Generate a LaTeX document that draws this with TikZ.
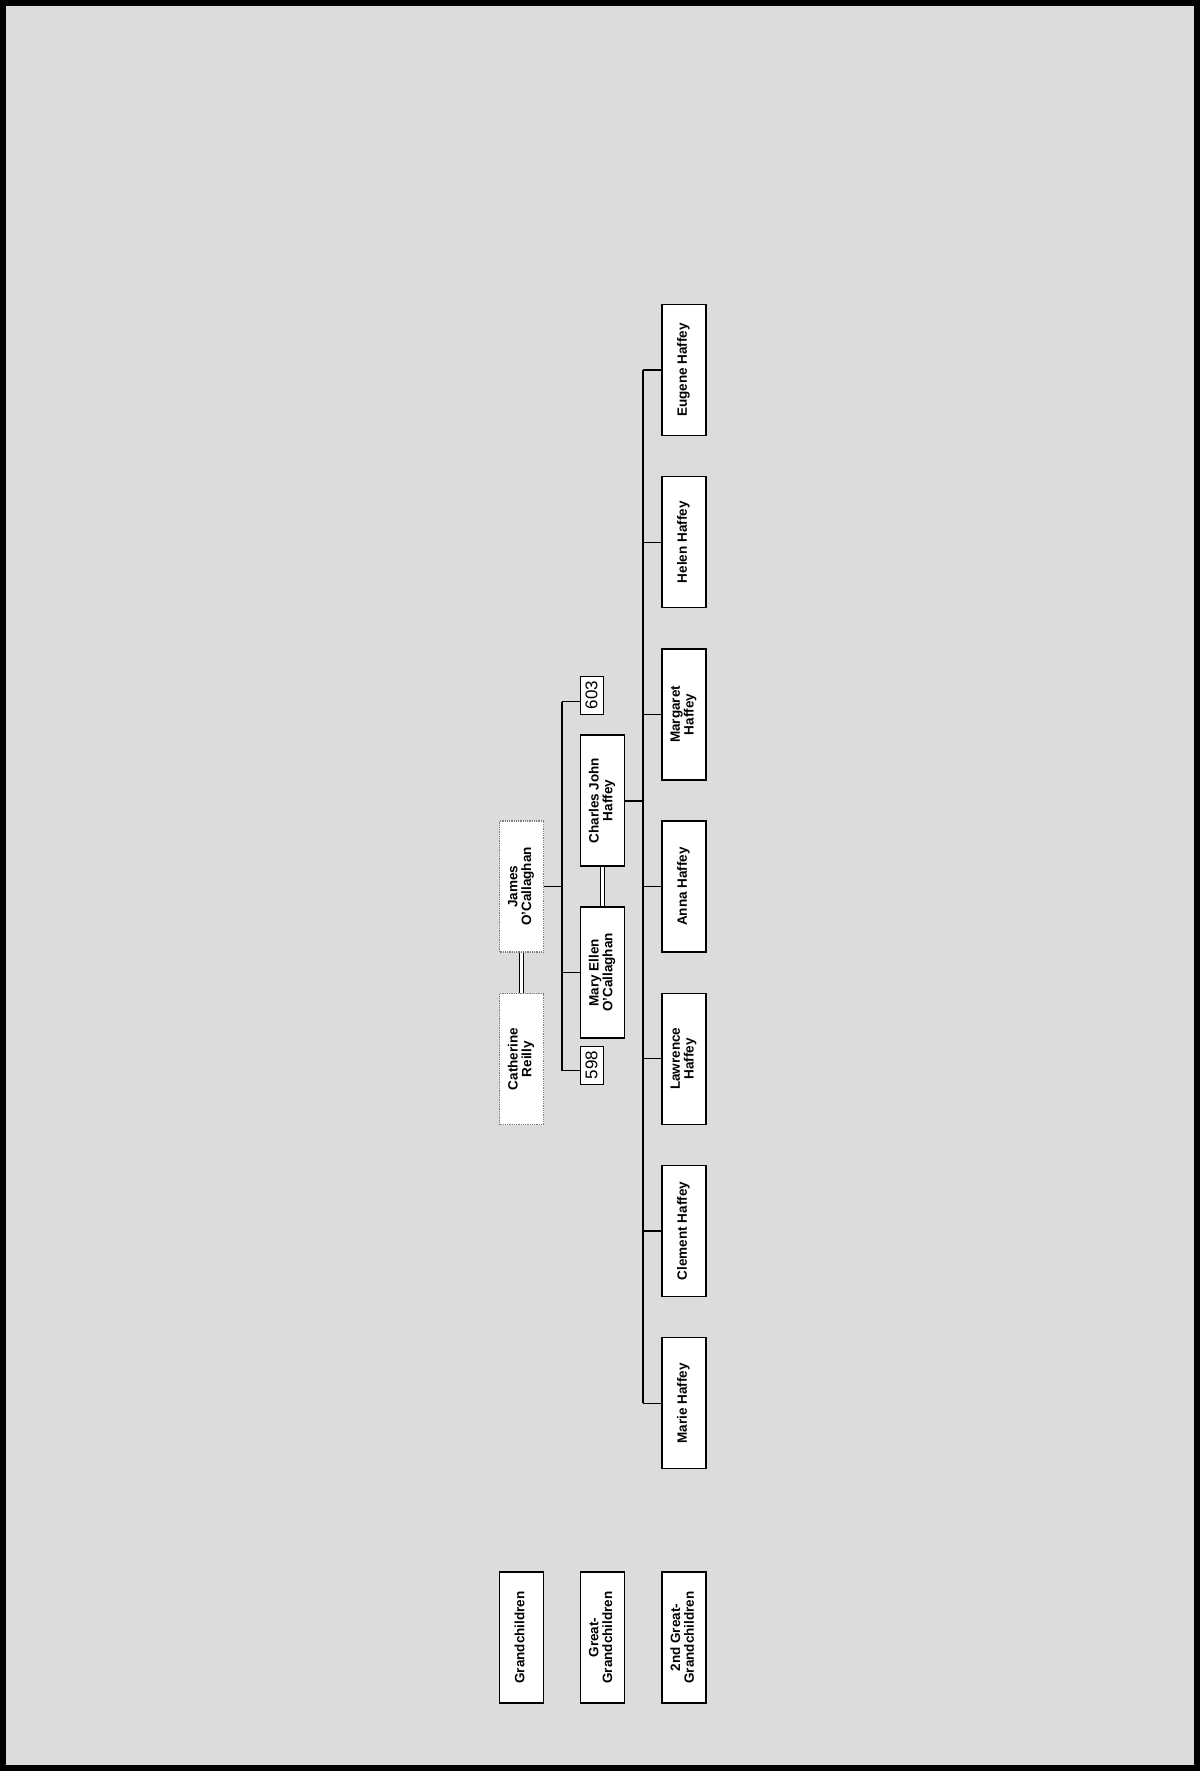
\documentclass[tikz,border=0pt]{standalone}
\usepackage{fontspec}
\setmainfont{Liberation Sans}
\usepackage{graphicx}
\definecolor{bgc}{HTML}{DCDCDC}
\newcommand\rt[1]{\rotatebox{90}{\begin{tabular}{@{}c@{}}#1\end{tabular}}}
\tikzset{
  box/.style={draw=black, line width=1.3pt, fill=white, minimum width=44pt, minimum height=131pt, inner sep=0pt, font=\bfseries\fontsize{13.5}{13}\selectfont},
  gbox/.style={box, draw=gray, dash pattern=on 1pt off 0.8pt, line width=1.3pt},
  lbl/.style={draw=black, line width=1pt, fill=white, minimum width=23pt, minimum height=38pt, inner sep=0pt, font=\fontsize{17}{18}\selectfont},
  conn/.style={line width=1.3pt},
  bar/.style={line width=2pt},
  wed/.style={double, double distance=3pt, line width=1.2pt}
}
\begin{document}
\begin{tikzpicture}[x=1pt,y=-1pt]
\useasboundingbox (0,0) rectangle (1200,1771);
\fill[bgc] (0,0) rectangle (1200,1771);
\draw[line width=6pt] (3,3) rectangle (1197,1768);

% generation 1
\node[gbox] (james) at (521.5,886.5) {\rt{James\\O'Callaghan}};
\node[gbox] (cath) at (521.5,1059) {\rt{Catherine\\Reilly}};
% generation 2
\node[box] (charles) at (602.5,800.5) {\rt{Charles John\\Haffey}};
\node[box] (mary) at (602.5,972.5) {\rt{Mary Ellen\\O'Callaghan}};
\node[lbl] (l603) at (591.5,695) {\rotatebox{90}{603}};
\node[lbl] (l598) at (591.5,1065) {\rotatebox{90}{598}};
% generation 3
\node[box] (eugene) at (684,370) {\rt{Eugene Haffey}};
\node[box] (helen) at (684,542.2) {\rt{Helen Haffey}};
\node[box] (margaret) at (684,714.4) {\rt{Margaret\\Haffey}};
\node[box] (anna) at (684,886.6) {\rt{Anna Haffey}};
\node[box] (lawrence) at (684,1058.8) {\rt{Lawrence\\Haffey}};
\node[box] (clement) at (684,1231) {\rt{Clement Haffey}};
\node[box] (marie) at (684,1403.2) {\rt{Marie Haffey}};
% legend
\node[box] (lg1) at (521.5,1637.5) {\rt{Grandchildren}};
\node[box] (lg2) at (602.5,1637.5) {\rt{Great-\\Grandchildren}};
\node[box] (lg3) at (684,1637.5) {\rt{2nd Great-\\Grandchildren}};

% marriages
\draw[wed] (james.south) -- (cath.north);
\draw[wed] (charles.south) -- (mary.north);

% children of James
\coordinate (b1a) at (562,701.7);
\coordinate (b1b) at (562,1070.7);
\draw[bar] (b1a) -- (b1b);
\draw[conn] (james.east) -- (james.east -| b1a);
\draw[conn] (b1a) -- (b1a -| l603.west);
\draw[conn] (b1b) -- (b1b -| l598.west);
\draw[conn] (mary.west -| b1a) -- (mary.west);

% children of Charles
\coordinate (b2a) at (643,370);
\coordinate (b2b) at (643,1403.2);
\draw[bar] (b2a) -- (b2b);
\draw[bar] (charles.east) -- (charles.east -| b2a);
\foreach \c in {eugene,helen,margaret,anna,lawrence,clement,marie}
  \draw[conn] (\c.west -| b2a) -- (\c.west);
\end{tikzpicture}
\end{document}
